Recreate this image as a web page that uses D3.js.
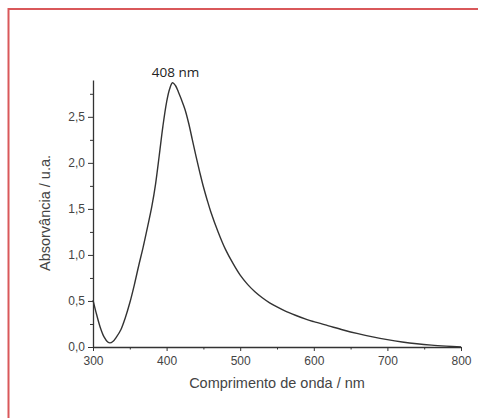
<!DOCTYPE html>
<html><head><meta charset="utf-8">
<script src="https://cdn.jsdelivr.net/npm/d3@7"></script>
<style>body{margin:0;background:#fff;overflow:hidden}svg{display:block}</style>
</head><body>
<svg id="c" width="478" height="418"></svg>
<script>
const wavelength = [300,305,310,315,320,323,327,332,338,344,350,356,362,368,374,380,385,390,395,400,404,408,412,416,420,425,430,435,440,445,450,455,460,470,480,490,500,510,520,530,540,550,560,575,590,600,620,640,660,680,700,720,740,760,780,800];
const absorbance = [0.51,0.35,0.21,0.11,0.055,0.045,0.06,0.11,0.19,0.32,0.48,0.67,0.88,1.08,1.30,1.53,1.77,2.08,2.40,2.66,2.80,2.87,2.84,2.77,2.69,2.58,2.43,2.25,2.07,1.90,1.74,1.60,1.47,1.25,1.06,0.91,0.78,0.68,0.60,0.535,0.48,0.435,0.395,0.345,0.30,0.275,0.23,0.185,0.145,0.11,0.08,0.055,0.035,0.02,0.009,0.0];
const xMajor = [300,400,500,600,700,800];
const xMinor = [350,450,550,650,750];
const yMajor = [0,0.5,1.0,1.5,2.0,2.5];
const yMinor = [0.25,0.75,1.25,1.75,2.25,2.75];
const peakLabel = "408 nm";
const xTitle = "Comprimento de onda / nm";
const yTitle = "Absorvância / u.a.";

const svg = d3.select("#c");
const border = "#d9585a";
svg.append("line").attr("x1",8).attr("x2",478).attr("y1",9).attr("y2",9).attr("stroke",border).attr("stroke-width",2);
svg.append("line").attr("x1",8.5).attr("x2",8.5).attr("y1",8).attr("y2",418).attr("stroke",border).attr("stroke-width",2);

const x = d3.scaleLinear().domain([300,800]).range([93,461]);
const y = d3.scaleLinear().domain([0,2.9]).range([347,80]);
const fmt = d => d3.format(".1f")(d).replace(".",",");
const axisColor = "#333";

const gx = svg.append("g").attr("transform","translate(0,347)")
  .call(d3.axisBottom(x).tickValues(xMajor).tickSize(4).tickSizeOuter(0).tickFormat(d3.format("d")));
const gxm = svg.append("g").attr("transform","translate(0,347)")
  .call(d3.axisBottom(x).tickValues(xMinor).tickSize(2.5).tickFormat(""));
gxm.select(".domain").remove();
const gy = svg.append("g").attr("transform","translate(93,0)")
  .call(d3.axisLeft(y).tickValues(yMajor).tickSize(5).tickSizeOuter(0).tickFormat(fmt));
const gym = svg.append("g").attr("transform","translate(93,0)")
  .call(d3.axisLeft(y).tickValues(yMinor).tickSize(3).tickFormat(""));
gym.select(".domain").remove();
svg.selectAll(".domain").attr("stroke",axisColor).attr("stroke-width",1.3);
svg.selectAll(".tick line").attr("stroke",axisColor).attr("stroke-width",1);
svg.selectAll(".tick text").attr("font-family","'Liberation Sans', Arial, sans-serif")
  .attr("font-size",12).attr("fill","#444");
gx.selectAll(".tick text").attr("dy","0.9em");

svg.append("path").datum(wavelength.map((w,i)=>[w,absorbance[i]]))
  .attr("fill","none").attr("stroke","#333").attr("stroke-width",1.4)
  .attr("d", d3.line().x(d=>x(d[0])).y(d=>y(d[1])).curve(d3.curveCatmullRom.alpha(0.5)));

svg.append("text").attr("x",x(408)+3).attr("y",77).attr("text-anchor","middle")
  .attr("font-family","'Open Sans', sans-serif").attr("font-size",13.5).attr("fill","#222").text(peakLabel);

svg.append("text").attr("x",277).attr("y",388).attr("text-anchor","middle")
  .attr("font-family","'Liberation Sans', Arial, sans-serif").attr("font-size",14.5).attr("fill","#444").text(xTitle);
svg.append("text").attr("transform","translate(50,213) rotate(-90)").attr("text-anchor","middle")
  .attr("font-family","'Liberation Sans', Arial, sans-serif").attr("font-size",14.5).attr("fill","#444").text(yTitle);
</script>
</body></html>
